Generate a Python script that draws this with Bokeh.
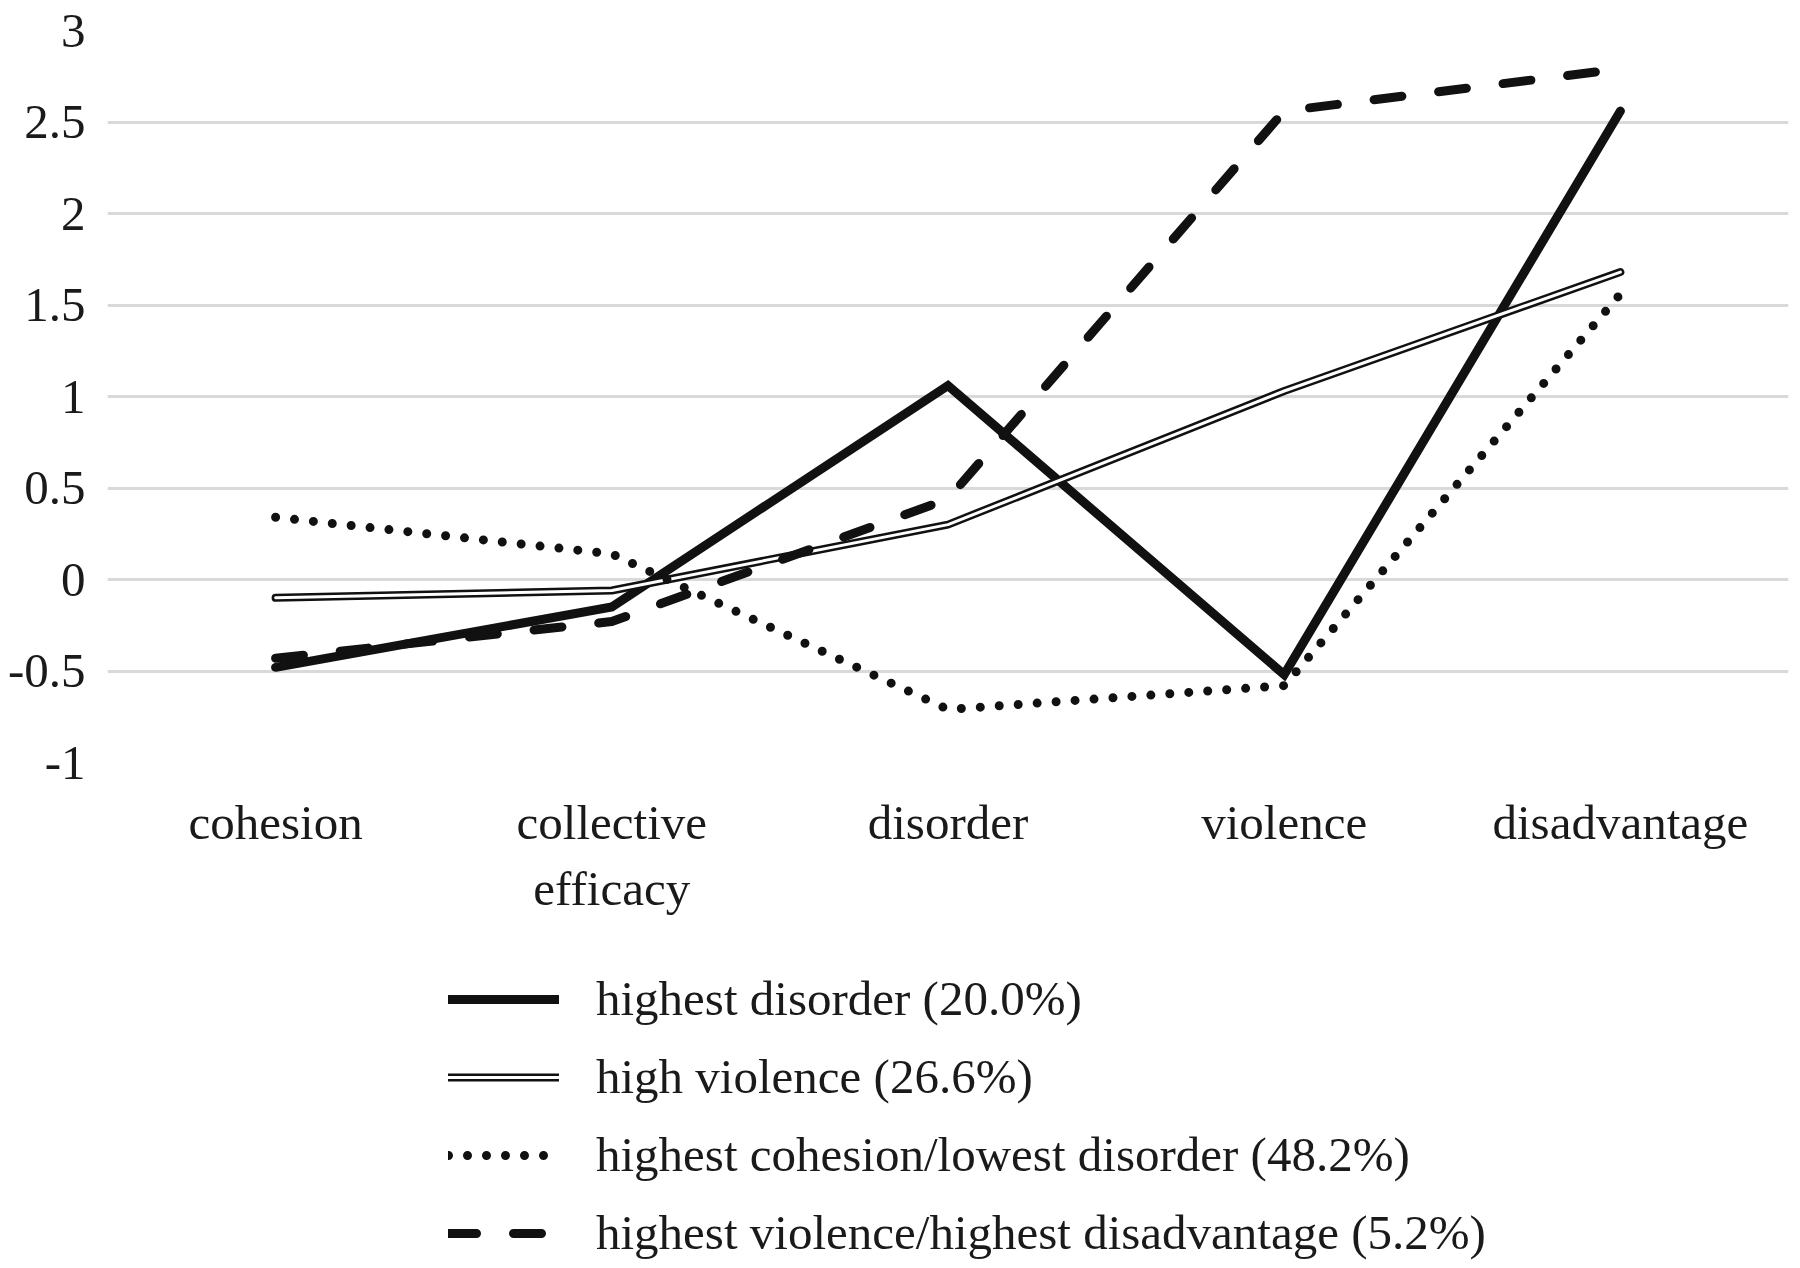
from bokeh.plotting import figure
from bokeh.models import Range1d, FixedTicker, Legend, LegendItem
from bokeh.layouts import column
from bokeh.embed import file_html
from bokeh.resources import INLINE

# ---- data ----
categories = ["cohesion", "collective efficacy", "disorder", "violence", "disadvantage"]
category_labels = ["cohesion", "collective\nefficacy", "disorder", "violence", "disadvantage"]
highest_disorder = [-0.48, -0.15, 1.06, -0.52, 2.56]
high_violence = [-0.10, -0.06, 0.30, 1.03, 1.68]
highest_cohesion_lowest_disorder = [0.34, 0.14, -0.71, -0.58, 1.56]
highest_violence_highest_disadvantage = [-0.43, -0.23, 0.44, 2.56, 2.79]
series_names = [
    "highest disorder (20.0%)",
    "high violence (26.6%)",
    "highest cohesion/lowest disorder (48.2%)",
    "highest violence/highest disadvantage (5.2%)",
]
y_ticks = [-1, -0.5, 0, 0.5, 1, 1.5, 2, 2.5, 3]
y_tick_labels = ["-1", "-0.5", "0", "0.5", "1", "1.5", "2", "2.5", "3"]

xs = list(range(len(categories)))
FONT = "Liberation Serif"
INK = "#111111"
NAN = float("nan")

# line styles for the four series
STYLES = [
    [dict(line_color=INK, line_width=9, line_join="miter", line_cap="round")],
    [dict(line_color=INK, line_width=8, line_join="round", line_cap="round"),
     dict(line_color="white", line_width=3, line_join="round", line_cap="round")],
    [dict(line_color=INK, line_width=9, line_dash="0 19", line_cap="round", line_join="round")],
    [dict(line_color=INK, line_width=9, line_dash="28 37", line_cap="round", line_join="round")],
]
SERIES = [highest_disorder, high_violence, highest_cohesion_lowest_disorder,
          highest_violence_highest_disadvantage]

p = figure(
    width=1800, height=930,
    x_range=Range1d(-0.5, len(categories) - 0.5),
    y_range=Range1d(-1, 3),
    output_backend="svg", toolbar_location=None,
    min_border_left=107, min_border_right=12, min_border_top=30, min_border_bottom=168,
)
p.outline_line_color = None
p.background_fill_color = "white"
p.border_fill_color = "white"

p.xaxis.ticker = FixedTicker(ticks=xs)
p.xaxis.major_label_overrides = {i: lab for i, lab in zip(xs, category_labels)}
p.yaxis.ticker = FixedTicker(ticks=y_ticks)
p.yaxis.major_label_overrides = {t: lab for t, lab in zip(y_ticks, y_tick_labels)}
for ax in (p.xaxis[0], p.yaxis[0]):
    ax.axis_line_color = None
    ax.major_tick_line_color = None
    ax.minor_tick_line_color = None
    ax.major_tick_out = 0
    ax.major_tick_in = 0
    ax.major_label_text_font = FONT
    ax.major_label_text_font_size = "49px"
    ax.major_label_text_color = "#1a1a1a"
p.xaxis.major_label_standoff = 32
p.yaxis.major_label_standoff = 22

p.xgrid.grid_line_color = None
p.ygrid.grid_line_color = "#d9d9d9"
p.ygrid.grid_line_width = 3
p.ygrid.ticker = FixedTicker(ticks=y_ticks)

for ys, styles in zip(SERIES, STYLES):
    for st in styles:
        p.line(xs, ys, **st)

# ---- legend below the chart ----
leg = figure(
    width=1800, height=338,
    x_range=Range1d(0, 1), y_range=Range1d(0, 1),
    output_backend="svg", toolbar_location=None,
    x_axis_location=None, y_axis_location=None,
    min_border_left=0, min_border_right=0, min_border_top=0, min_border_bottom=0,
)
leg.outline_line_color = None
leg.xgrid.visible = False
leg.ygrid.visible = False
leg.background_fill_color = "white"
leg.border_fill_color = "white"

items = []
for name, styles in zip(series_names, STYLES):
    rs = [leg.line([NAN], [NAN], **st) for st in styles]
    items.append(LegendItem(label=name, renderers=rs))

legend = Legend(
    items=items,
    location=(341, 7),
    orientation="vertical",
    glyph_width=111, glyph_height=54,
    label_height=54, label_standoff=37, spacing=21,
    padding=0, margin=0,
    border_line_color=None, background_fill_alpha=0,
    label_text_font=FONT, label_text_font_size="49px", label_text_color="#1a1a1a",
)
leg.add_layout(legend, "center")

layout = column(p, leg, spacing=0)
open("out.html", "w").write(file_html(layout, INLINE))
